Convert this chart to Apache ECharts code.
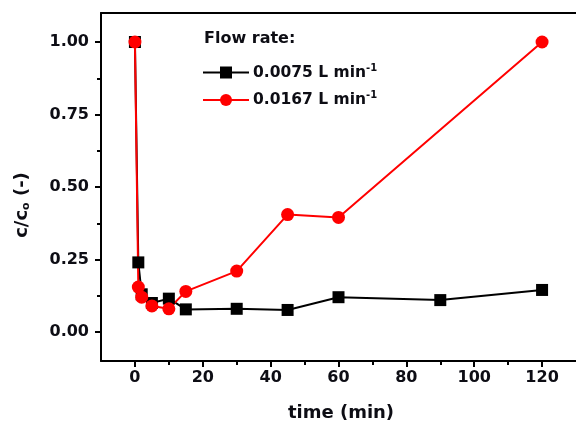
<!DOCTYPE html>
<html><head><meta charset="utf-8">
<script src="https://cdn.jsdelivr.net/npm/echarts@6/dist/echarts.min.js"></script>
<style>html,body{margin:0;padding:0;background:#fff}#c{width:576px;height:423px}</style>
</head><body><div id="c"></div>
<script>
// data
const timeBlack = [0, 1, 2, 5, 10, 15, 30, 45, 60, 90, 120];
const valBlack  = [1.0, 0.24, 0.13, 0.10, 0.115, 0.078, 0.08, 0.076, 0.12, 0.11, 0.145];
const timeRed   = [0, 1, 2, 5, 10, 15, 30, 45, 60, 120];
const valRed    = [1.0, 0.155, 0.12, 0.09, 0.08, 0.14, 0.21, 0.405, 0.395, 1.0];
const seriesNames = ['0.0075', '0.0167'];
const xMajor = [0, 20, 40, 60, 80, 100, 120];
const xMinor = [10, 30, 50, 70, 90, 110];
const yMajor = [0, 0.25, 0.5, 0.75, 1.0];
const yMinor = [0.125, 0.375, 0.625, 0.875];

const F = 'DejaVu Sans';
const TXT = '#0d0d14';
const chart = echarts.init(document.getElementById('c'), null, {renderer: 'canvas'});
const gridRect = {left: 101, top: 13, width: 484, height: 348};
const xRange = {min: -10, max: 130};
const yRange = {min: -0.1, max: 1.1};
const axisLine = {show: true, onZero: false, lineStyle: {color: '#000', width: 2}};
const noLine = {show: false, onZero: false};
chart.setOption({
  animation: false,
  grid: Object.assign({containLabel: false}, gridRect),
  title: {text: 'Flow rate:', left: 199, top: 26,
    textStyle: {fontFamily: F, fontWeight: 'bold', fontSize: 16, color: TXT}},
  legend: {
    left: 197, top: 58, orient: 'vertical', itemWidth: 46, itemHeight: 15, itemGap: 10,
    data: seriesNames,
    formatter: n => n + ' L min{sup|-1}',
    textStyle: {fontFamily: F, fontWeight: 'bold', fontSize: 15.5, color: TXT, padding: [0,0,0,-1],
      rich: {sup: {fontFamily: F, fontWeight: 'bold', fontSize: 10, color: TXT, padding: [0,0,9,0]}}}
  },
  xAxis: [
    {type: 'value', ...xRange, position: 'bottom', axisLine,
     splitLine: {show: false},
     axisTick: {show: true, inside: false, length: 6, lineStyle: {width: 2, color: '#000'}, customValues: xMajor},
     axisLabel: {customValues: xMajor, margin: 9, fontFamily: F, fontWeight: 'bold', fontSize: 16, color: TXT}},
    {type: 'value', ...xRange, position: 'bottom', axisLine: noLine,
     splitLine: {show: false},
     axisTick: {show: true, length: 4, lineStyle: {width: 2, color: '#000'}, customValues: xMinor},
     axisLabel: {show: false}},
    {type: 'value', ...xRange, position: 'top', axisLine,
     splitLine: {show: false}, axisTick: {show: false}, axisLabel: {show: false}}
  ],
  yAxis: [
    {type: 'value', ...yRange, position: 'left', axisLine,
     splitLine: {show: false},
     axisTick: {show: true, length: 6, lineStyle: {width: 2, color: '#000'}, customValues: yMajor},
     axisLabel: {customValues: yMajor, margin: 12, fontFamily: F, fontWeight: 'bold', fontSize: 16, color: TXT,
       formatter: v => v.toFixed(2)}},
    {type: 'value', ...yRange, position: 'left', axisLine: noLine,
     splitLine: {show: false},
     axisTick: {show: true, length: 4, lineStyle: {width: 2, color: '#000'}, customValues: yMinor},
     axisLabel: {show: false}}
  ],
  graphic: [
    {type: 'text', x: 22, y: 205, rotation: Math.PI / 2,
     style: {text: 'c/c{sub|o} (-)', fontFamily: F, fontWeight: 'bold', fontSize: 18, fill: TXT,
       align: 'center', verticalAlign: 'middle',
       rich: {sub: {fontFamily: F, fontWeight: 'bold', fontSize: 11, fill: TXT, padding: [8,0,0,0]}}}},
    {type: 'text', x: 341, y: 413,
     style: {text: 'time (min)', fontFamily: F, fontWeight: 'bold', fontSize: 18, fill: TXT,
       align: 'center', verticalAlign: 'middle'}}
  ],
  series: [
    {name: seriesNames[0], type: 'line', xAxisIndex: 0, yAxisIndex: 0,
     data: timeBlack.map((t, i) => [t, valBlack[i]]),
     symbol: 'rect', symbolSize: 12, itemStyle: {color: '#000'},
     lineStyle: {color: '#000', width: 2}},
    {name: seriesNames[1], type: 'line', xAxisIndex: 0, yAxisIndex: 0,
     data: timeRed.map((t, i) => [t, valRed[i]]),
     symbol: 'circle', symbolSize: 13, itemStyle: {color: '#ff0000'},
     lineStyle: {color: '#ff0000', width: 2}}
  ]
});
</script>
</body></html>
